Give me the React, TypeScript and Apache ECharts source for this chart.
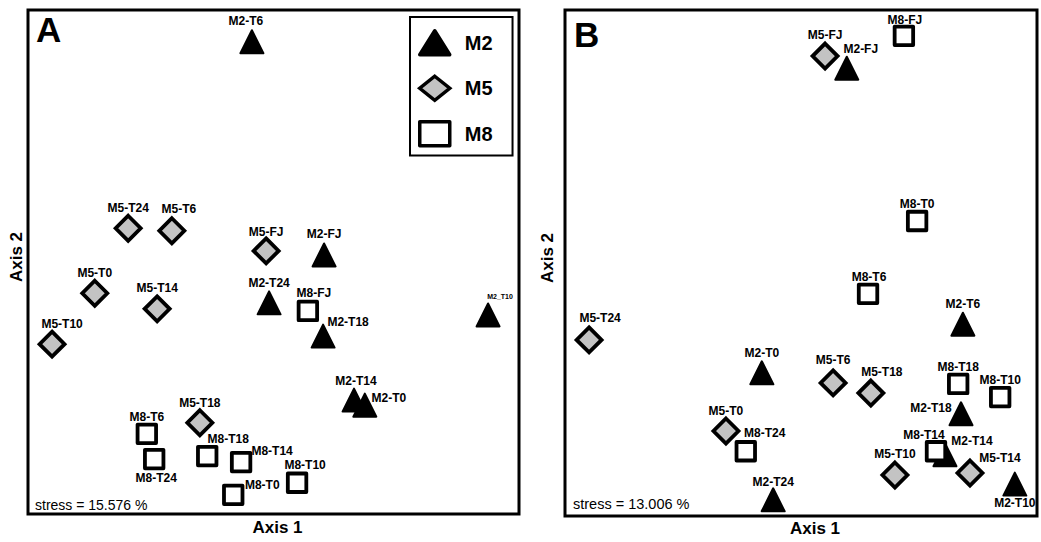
import React, { useEffect, useRef } from 'react';
import * as echarts from 'echarts';

const FONT = '"Liberation Sans", Arial, Helvetica, sans-serif';

// Panel A: [sample, axis 1, axis 2] (scores, % of plotting frame)
const aM2: [string, number, number][] = [
  ['M2-T6', 45.6, 93.7], ['M2-FJ', 60.3, 51.4], ['M2-T24', 49.1, 41.9], ['M2-T18', 60.1, 35.3],
  ['M2_T10', 93.7, 39.5], ['M2-T14', 66.4, 22.6], ['M2-T0', 68.6, 21.6],
];
const aM5: [string, number, number][] = [
  ['M5-T24', 20.4, 56.7], ['M5-T6', 29.3, 56.2], ['M5-T0', 13.6, 43.8], ['M5-T14', 26.3, 40.7],
  ['M5-T10', 4.9, 33.7], ['M5-FJ', 48.5, 52.2], ['M5-T18', 35.0, 18.1],
];
const aM8: [string, number, number][] = [
  ['M8-FJ', 57.0, 40.3], ['M8-T10', 54.8, 6.2], ['M8-T6', 24.2, 15.9], ['M8-T24', 25.7, 10.9],
  ['M8-T18', 36.5, 11.5], ['M8-T14', 43.4, 10.3], ['M8-T0', 41.8, 3.8],
];

// Panel B
const bM2: [string, number, number][] = [
  ['M2-FJ', 59.7, 88.5], ['M2-T6', 84.3, 37.9], ['M2-T0', 41.7, 28.3], ['M2-T24', 44.1, 3.2],
  ['M2-T18', 83.9, 20.2], ['M2-T14', 80.5, 12.1], ['M2-T10', 95.3, 6.3],
];
const bM5: [string, number, number][] = [
  ['M5-FJ', 55.1, 90.9], ['M5-T24', 5.1, 34.8], ['M5-T0', 34.1, 16.8], ['M5-T6', 56.8, 26.3],
  ['M5-T18', 64.8, 24.3], ['M5-T10', 69.9, 8.1], ['M5-T14', 85.8, 8.5],
];
const bM8: [string, number, number][] = [
  ['M8-FJ', 71.8, 94.9], ['M8-T0', 74.6, 58.3], ['M8-T6', 64.2, 43.9], ['M8-T24', 38.3, 12.8],
  ['M8-T18', 83.3, 26.1], ['M8-T10', 92.2, 23.5], ['M8-T14', 78.6, 12.8],
];

const groups = ['M2', 'M5', 'M8'];
const stressA = 'stress = 15.576 %';
const stressB = 'stress = 13.006 %';

// label placement (offset of label centre from marker centre, px)
const offsA: Record<string, [number, number]> = {
  'M2-T6': [-6, -21], 'M2-FJ': [0, -21], 'M2-T24': [0, -20], 'M8-FJ': [6, -18], 'M2-T18': [25, -14],
  'M2_T10': [12, -18], 'M2-T14': [2, -19], 'M2-T0': [24, -7], 'M8-T10': [8, -18], 'M5-T24': [0, -20],
  'M5-T6': [7, -22], 'M5-T0': [0, -20], 'M5-T14': [0, -21], 'M5-T10': [10, -20], 'M5-FJ': [0, -19],
  'M5-T18': [0, -20], 'M8-T6': [0, -17], 'M8-T24': [2, 19], 'M8-T18': [21, -17], 'M8-T14': [31, -11],
  'M8-T0': [29, -10],
};
const offsB: Record<string, [number, number]> = {
  'M8-FJ': [1, -16], 'M5-FJ': [0, -21], 'M2-FJ': [14, -19], 'M8-T0': [0, -17], 'M8-T6': [1, -17],
  'M2-T6': [0, -20], 'M5-T24': [11, -22], 'M2-T0': [0, -20], 'M5-T0': [0, -20], 'M8-T24': [19, -18],
  'M2-T24': [0, -18], 'M5-T6': [0, -23], 'M5-T18': [11, -21], 'M8-T18': [0, -17], 'M8-T10': [0, -17],
  'M2-T18': [-30, -6], 'M8-T14': [-12, -16], 'M2-T14': [27, -14], 'M5-T10': [0, -21], 'M5-T14': [30, -15],
  'M2-T10': [0, 19],
};

const SYM: Record<string, any> = {
  M2: { symbol: 'triangle', symbolSize: 23, itemStyle: { color: '#000', borderColor: '#000', borderWidth: 2, borderJoin: 'round', opacity: 1 } },
  M5: { symbol: 'diamond', symbolSize: 25, itemStyle: { color: '#c3c3c3', borderColor: '#000', borderWidth: 3.8, opacity: 1 } },
  M8: { symbol: 'rect', symbolSize: 18.5, itemStyle: { color: '#fff', borderColor: '#000', borderWidth: 3.8, borderJoin: 'round', opacity: 1 } },
};

function makeSeries(name: string, rows: [string, number, number][], gi: number, offs: Record<string, [number, number]>) {
  return {
    type: 'scatter',
    name,
    xAxisIndex: gi,
    yAxisIndex: gi,
    ...SYM[name],
    emphasis: { disabled: true },
    label: {
      show: true,
      position: 'inside',
      formatter: '{b}',
      fontSize: 12,
      fontWeight: 'bold',
      fontFamily: FONT,
      color: '#000',
    },
    data: rows.map(([n, x, y]) => ({
      name: n,
      value: [x, y],
      label: { offset: offs[n] || [0, -20], fontSize: n === 'M2_T10' ? 7 : 12 },
    })),
  };
}

function axis(gi: number, name: string, gap: number, isY: boolean, pad: number[]) {
  return {
    gridIndex: gi,
    type: 'value',
    min: 0,
    max: 100,
    name,
    nameLocation: 'middle',
    nameGap: gap,
    nameRotate: isY ? 90 : 0,
    nameTextStyle: { fontSize: 17, fontWeight: 'bold', fontFamily: FONT, color: '#000', padding: pad },
    axisLine: { show: false },
    axisTick: { show: false },
    axisLabel: { show: false },
    splitLine: { show: false },
  };
}

export default function App() {
  const ref = useRef<HTMLDivElement>(null);
  useEffect(() => {
    if (!ref.current) return;
    const chart = echarts.init(ref.current, undefined, { renderer: 'svg' });
    const gridStyle = { show: true, borderColor: '#000', borderWidth: 3, backgroundColor: 'transparent' };
    chart.setOption({
      animation: false,
      backgroundColor: '#fff',
      title: [
        { text: 'A', left: 36, top: 12, padding: 0, textStyle: { fontSize: 35, fontWeight: 'bold', fontFamily: FONT, color: '#000' } },
        { text: 'B', left: 574, top: 17, padding: 0, textStyle: { fontSize: 35, fontWeight: 'bold', fontFamily: FONT, color: '#000' } },
      ],
      grid: [
        { left: 28, top: 10, width: 491, height: 504, ...gridStyle },
        { left: 565, top: 10, width: 472, height: 506, ...gridStyle },
      ],
      xAxis: [axis(0, 'Axis 1', 5, false, [0, 0, 0, 8]), axis(1, 'Axis 1', 4, false, [0, 0, 0, 28])],
      yAxis: [axis(0, 'Axis 2', 3, true, [0, 0, 0, 10]), axis(1, 'Axis 2', 9, true, [0, 0, 0, 10])],
      legend: {
        data: groups,
        orient: 'vertical',
        left: 410,
        top: 17,
        padding: [12, 20, 8, 8],
        itemWidth: 30,
        itemHeight: 24,
        itemGap: 18,
        borderColor: '#000',
        borderWidth: 2,
        selectedMode: false,
        itemStyle: { borderWidth: 3.5, borderColor: '#000' },
        textStyle: { fontSize: 20, fontWeight: 'bold', fontFamily: FONT, color: '#000', padding: [0, 0, 0, 10] },
      },
      graphic: [
        { type: 'text', left: 35, top: 498, style: { text: stressA, font: `14px ${FONT}`, fill: '#000' } },
        { type: 'text', left: 573, top: 496, style: { text: stressB, font: `14.5px ${FONT}`, fill: '#000' } },
      ],
      series: [
        makeSeries('M2', aM2, 0, offsA),
        makeSeries('M5', aM5, 0, offsA),
        makeSeries('M8', aM8, 0, offsA),
        makeSeries('M2', bM2, 1, offsB),
        makeSeries('M5', bM5, 1, offsB),
        makeSeries('M8', bM8, 1, offsB),
      ],
    });
    return () => chart.dispose();
  }, []);
  return <div ref={ref} style={{ position: 'absolute', left: 0, top: 0, width: 1041, height: 542 }} />;
}
